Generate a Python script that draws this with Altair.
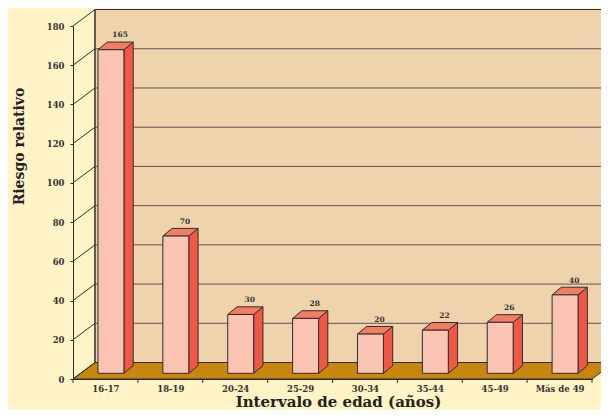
import json
import altair as alt
import pandas as pd

categories = ["16-17", "18-19", "20-24", "25-29", "30-34", "35-44", "45-49", "Más de 49"]
values = [165, 70, 30, 28, 20, 22, 26, 40]
y_ticks = [0, 20, 40, 60, 80, 100, 120, 140, 160, 180]

# 3D geometry in data units (style constants)
WALL_DX, WALL_DY = 0.339, 8.4
BAR_L, BAR_R = -0.115, 0.285
BAR_OY = 2.9
BAR_DX, BAR_DY = 0.143, 3.9
TICK_LEN = 2.0
N = len(categories)
X0, X1 = -0.5, N - 0.5

BG = "#FFF4C6"
WALL = "#EFD3AD"
FLOOR = "#C8860E"
FRONT = "#FBC3B1"
SIDE = "#F05845"
TOP = "#F47C62"
LINE = "#2E2E2E"
FONT = "DejaVu Serif"

xs = alt.Scale(domain=[X0, X1], nice=False, zero=False)
ys = alt.Scale(domain=[0, 180], nice=False, zero=False)

label_expr = json.dumps(categories) + "[datum.value] || ''"
X_TITLE = "Intervalo de edad (años)"
Y_TITLE = "Riesgo relativo"
x_axis = alt.Axis(values=list(range(N)), labelExpr=label_expr,
                  labelFlush=False, labelOverlap=False,
                  ticks=False, domainColor=LINE, grid=False,
                  labelFont=FONT, labelFontWeight="bold", labelFontSize=8.5,
                  labelColor="#333", labelPadding=5,
                  titleFont=FONT, titleFontWeight="bold", titleFontSize=15,
                  titleColor="#222", titleX=265, titleY=15)
y_axis = alt.Axis(values=y_ticks, tickSize=3, tickColor=LINE, domainColor=LINE,
                  grid=False, labelFont=FONT, labelFontWeight="bold",
                  labelFontSize=8.5, labelColor="#333", labelPadding=6,
                  titleFont=FONT, titleFontWeight="bold", titleFontSize=14,
                  titleColor="#222", titleX=-47, titleY=120)


def X(f):
    return alt.X(f, type="quantitative", scale=xs, axis=x_axis, title=X_TITLE)


def Y(f):
    return alt.Y(f, type="quantitative", scale=ys, axis=y_axis, title=Y_TITLE)


# back wall
wall_df = pd.DataFrame({"x": [X0 + WALL_DX], "x2": [X1 + WALL_DX],
                        "y": [WALL_DY], "y2": [180 + WALL_DY]})
wall = alt.Chart(wall_df).mark_rect(color=WALL, stroke=LINE, strokeWidth=1).encode(
    x=X("x"), x2="x2", y=Y("y"), y2="y2")

# grid on back wall
grid_df = pd.DataFrame({"y": [v + WALL_DY for v in y_ticks[1:-1]],
                        "x": X0 + WALL_DX, "x2": X1 + WALL_DX})
grid = alt.Chart(grid_df).mark_rule(color="#5a5550", strokeWidth=1).encode(
    x=X("x"), x2="x2", y=Y("y"))

# left wall diagonals
diag_rows = []
for v in y_ticks:
    diag_rows.append({"g": v, "x": X0, "y": v})
    diag_rows.append({"g": v, "x": X0 + WALL_DX, "y": v + WALL_DY})
diag = alt.Chart(pd.DataFrame(diag_rows)).mark_line(color=LINE, strokeWidth=1).encode(
    x=X("x"), y=Y("y"), detail="g:N")

# left wall back edge
edge_df = pd.DataFrame({"x": [X0 + WALL_DX], "y": [WALL_DY], "y2": [180 + WALL_DY]})
edge = alt.Chart(edge_df).mark_rule(color=LINE, strokeWidth=1).encode(
    x=X("x"), y=Y("y"), y2="y2")

# floor
floor_df = pd.DataFrame({"y": [0, WALL_DY], "x": [X0, X0 + WALL_DX], "x2": [X1, X1 + WALL_DX]})
floor = alt.Chart(floor_df).mark_area(orient="horizontal", color=FLOOR, stroke=LINE,
                                      strokeWidth=1).encode(
    y=Y("y"), x=X("x"), x2="x2")

# category boundary ticks below the floor
tick_df = pd.DataFrame({"x": [k - 0.5 for k in range(N + 1)], "y": 0.0, "y2": -TICK_LEN})
xticks = alt.Chart(tick_df).mark_rule(color=LINE, strokeWidth=1).encode(
    x=X("x"), y=Y("y"), y2="y2")

# bars
bar_df = pd.DataFrame({"i": list(range(N)), "v": values})
bar_df["xl"] = bar_df["i"] + BAR_L
bar_df["xr"] = bar_df["i"] + BAR_R
bar_df["yb"] = BAR_OY
bar_df["yt"] = bar_df["v"] + BAR_OY
front = alt.Chart(bar_df).mark_rect(color=FRONT, stroke=LINE, strokeWidth=1).encode(
    x=X("xl"), x2="xr", y=Y("yb"), y2="yt")

side_rows, top_rows = [], []
for i, v in enumerate(values):
    side_rows.append({"b": i, "x": i + BAR_R, "y": BAR_OY, "y2": v + BAR_OY})
    side_rows.append({"b": i, "x": i + BAR_R + BAR_DX, "y": BAR_OY + BAR_DY,
                      "y2": v + BAR_OY + BAR_DY})
    top_rows.append({"b": i, "y": v + BAR_OY, "x": i + BAR_L, "x2": i + BAR_R})
    top_rows.append({"b": i, "y": v + BAR_OY + BAR_DY, "x": i + BAR_L + BAR_DX,
                     "x2": i + BAR_R + BAR_DX})
side = alt.Chart(pd.DataFrame(side_rows)).mark_area(orient="vertical", color=SIDE, stroke=LINE,
                                                    strokeWidth=1).encode(
    x=X("x"), y=Y("y"), y2="y2", detail="b:N")
top = alt.Chart(pd.DataFrame(top_rows)).mark_area(orient="horizontal", color=TOP, stroke=LINE,
                                                  strokeWidth=1).encode(
    y=Y("y"), x=X("x"), x2="x2", detail="b:N")

lab_df = pd.DataFrame({"x": [i + 0.225 for i in range(N)], "y": [v + 10.2 for v in values],
                       "t": [str(v) for v in values]})
labels = alt.Chart(lab_df).mark_text(font=FONT, fontWeight="bold", fontSize=7.5, color="#333",
                                     baseline="middle").encode(
    x=X("x"), y=Y("y"), text="t:N")

chart = alt.layer(wall, grid, floor, diag, edge, xticks, side, top, front, labels).properties(
    width=519, height=353, padding={"left": 65, "top": 18, "right": 9, "bottom": 31},
    autosize=alt.AutoSizeParams(type="none"), background=BG
).configure_view(strokeWidth=0)

chart.save("out.html", embed_options={"renderer": "svg", "actions": False})
